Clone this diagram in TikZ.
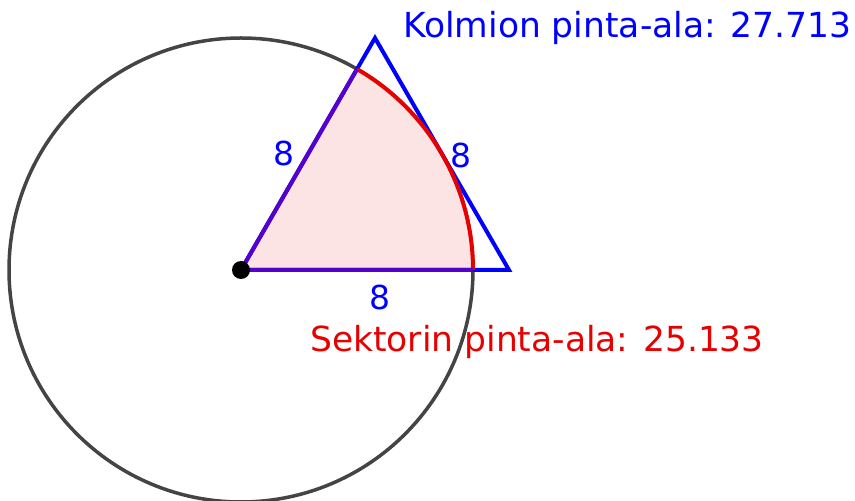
\documentclass[tikz,border=0pt]{standalone}
\usepackage{fontspec}
\setmainfont{DejaVu Sans}
\usetikzlibrary{calc}
\definecolor{ggblue}{RGB}{0,0,255}
\definecolor{ggred}{RGB}{230,0,0}
\definecolor{ggpurple}{RGB}{85,0,205}
\definecolor{gggray}{RGB}{68,68,68}
\definecolor{ggpink}{RGB}{253,228,228}
\tikzset{
  lbl/.style={font=\fontsize{33}{36}\selectfont},
  ttl/.style={font=\fontsize{34.5}{38}\selectfont, anchor=base west, inner sep=0pt},
  tri/.style={draw=ggblue, line width=4pt, line join=miter},
  circ/.style={draw=gggray, line width=3.5pt},
}
\begin{document}
\begin{tikzpicture}[x=1pt,y=1pt]
\useasboundingbox (0,0) rectangle (855,501);
\clip (0,0) rectangle (855,501);
\coordinate (O) at (241,231);
\coordinate (B) at (509,231);
\coordinate (A) at (375,463);
\coordinate (P) at ($(O)+(0:232)$);
\coordinate (Q) at ($(O)+(60:232)$);
% circle
\draw[circ] (O) circle[radius=232];
% sector fill
\fill[ggpink] (O) -- (P) arc[start angle=0,end angle=60,radius=232] -- cycle;
% triangle
\draw[tri] (O) -- (B) -- (A) -- cycle;
% sector outline
\draw[ggred, line width=4pt] (P) arc[start angle=0,end angle=60,radius=232];
\draw[ggpurple, line width=4pt, line join=miter] (P) -- (O) -- (Q);
% point
\fill[black] (O) circle[radius=9];
% labels
\node[lbl, text=ggblue] (l1) at (284,348) {8};
\node[lbl, text=ggblue] (l2) at (461,346) {8};
\node[lbl, text=ggblue] (l3) at (380,204) {8};
\node[ttl, text=ggblue] (T1) at (403,463) {Kolmion pinta-ala: 27.713};
\node[ttl, text=ggred] (T2) at (310,149) {Sektorin pinta-ala: 25.133};
\end{tikzpicture}
\end{document}
